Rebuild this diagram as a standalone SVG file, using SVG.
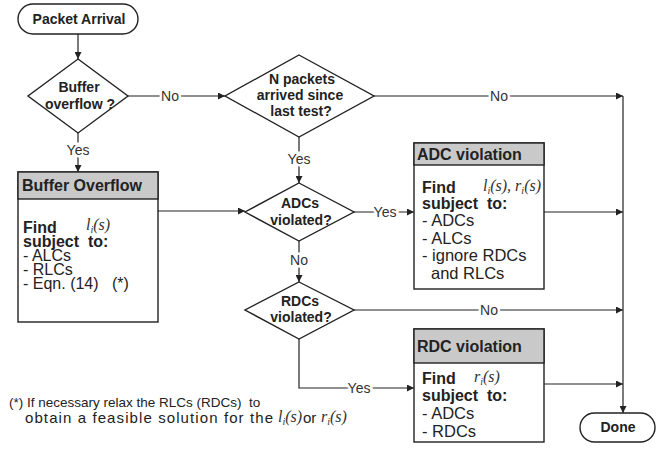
<svg xmlns="http://www.w3.org/2000/svg" width="658" height="452" viewBox="0 0 658 452">
<defs>
<marker id="arr" viewBox="0 0 10 10" refX="10" refY="5" markerWidth="8" markerHeight="7" orient="auto" markerUnits="userSpaceOnUse"><path d="M0,0 L10,5 L0,10 z" fill="#222"/></marker>
<style>
.shape{fill:#fff;stroke:#222;stroke-width:1.4}
.hdr{fill:#c9c9c9;stroke:#222;stroke-width:1.4}
.b{font-family:"Liberation Sans",Arial,sans-serif;font-weight:bold;fill:#222}
.r{font-family:"Liberation Sans",Arial,sans-serif;fill:#222}
.m{font-family:"Liberation Serif","Times New Roman",serif;font-style:italic;fill:#333}
.c{text-anchor:middle}
.line{fill:none;stroke:#222;stroke-width:1.2}
.lbl{font-family:"Liberation Sans",Arial,sans-serif;font-size:14px;fill:#333;text-anchor:middle;stroke:#fff;stroke-width:5;paint-order:stroke}
</style>
</defs>
<g id="connectors">
<path class="line" d="M78,34 V59" marker-end="url(#arr)"/>
<path class="line" d="M128,96 H225" marker-end="url(#arr)"/>
<path class="line" d="M78,133 V172" marker-end="url(#arr)"/>
<path class="line" d="M374,96 H623" marker-end="url(#arr)"/>
<path class="line" d="M299,137 V183" marker-end="url(#arr)"/>
<path class="line" d="M158,211 H245" marker-end="url(#arr)"/>
<path class="line" d="M354,212 H414" marker-end="url(#arr)"/>
<path class="line" d="M544,212 H623" marker-end="url(#arr)"/>
<path class="line" d="M299,241 V282" marker-end="url(#arr)"/>
<path class="line" d="M354,310 H623" marker-end="url(#arr)"/>
<path class="line" d="M299,339 V388 H414" marker-end="url(#arr)"/>
<path class="line" d="M544,384 H623" marker-end="url(#arr)"/>
<path class="line" d="M623,96 V413" marker-end="url(#arr)"/>
<text class="lbl" x="170" y="101">No</text>
<text class="lbl" x="78" y="155">Yes</text>
<text class="lbl" x="499" y="101">No</text>
<text class="lbl" x="299" y="164">Yes</text>
<text class="lbl" x="385" y="217">Yes</text>
<text class="lbl" x="299" y="265">No</text>
<text class="lbl" x="489" y="315">No</text>
<text class="lbl" x="359" y="393">Yes</text>
</g>
<g id="start">
<rect class="shape" x="18" y="4" width="120" height="30" rx="15"/>
<text class="b c" x="79" y="24" font-size="14">Packet Arrival</text>
</g>
<g id="buffer-check">
<polygon class="shape" points="78,59 128,96 78,133 28,96"/>
<text class="b c" x="79" y="92" font-size="14">Buffer</text>
<text class="b c" x="80" y="109" font-size="14">overflow ?</text>
</g>
<g id="n-packets">
<polygon class="shape" points="299,55 374,96 299,137 225,96"/>
<text class="b c" x="302" y="84" font-size="14">N packets</text>
<text class="b c" x="300" y="100" font-size="14">arrived since</text>
<text class="b c" x="301" y="116" font-size="14">last test?</text>
</g>
<g id="adcs-check">
<polygon class="shape" points="299,183 354,212 299,241 245,212"/>
<text class="b c" x="300" y="208" font-size="14">ADCs</text>
<text class="b c" x="301" y="225" font-size="14">violated?</text>
</g>
<g id="rdcs-check">
<polygon class="shape" points="299,282 354,310 299,339 245,310"/>
<text class="b c" x="300" y="306" font-size="14">RDCs</text>
<text class="b c" x="301" y="322" font-size="14">violated?</text>
</g>
<g id="buffer-overflow">
<rect class="shape" x="18" y="172" width="140" height="150"/>
<rect class="hdr" x="18" y="172" width="140" height="27"/>
<text class="b" x="22" y="191" font-size="16">Buffer Overflow</text>
<text class="b" x="23" y="233" font-size="16">Find</text>
<text class="m" x="86" y="230" font-size="16">l<tspan font-size="10" dy="3">i</tspan><tspan dy="-3">(s)</tspan></text>
<text class="b" x="23" y="247" font-size="16" xml:space="preserve">subject  to:</text>
<text class="r" x="23" y="261" font-size="16">- ALCs</text>
<text class="r" x="23" y="275" font-size="16">- RLCs</text>
<text class="r" x="23" y="289" font-size="16" xml:space="preserve">- Eqn. (14)   (*)</text>
</g>
<g id="adc-violation">
<rect class="shape" x="414" y="143" width="130" height="146"/>
<rect class="hdr" x="414" y="143" width="130" height="22"/>
<text class="b" x="417" y="160" font-size="16">ADC violation</text>
<text class="b" x="422" y="193" font-size="16">Find</text>
<text class="m" x="483" y="191" font-size="16">l<tspan font-size="10" dy="3">i</tspan><tspan dy="-3">(s), r</tspan><tspan font-size="10" dy="3">i</tspan><tspan dy="-3">(s)</tspan></text>
<text class="b" x="422" y="209" font-size="16" xml:space="preserve">subject  to:</text>
<text class="r" x="422" y="226" font-size="16.5">- ADCs</text>
<text class="r" x="422" y="244" font-size="16.5">- ALCs</text>
<text class="r" x="422" y="261" font-size="16.5">- ignore RDCs</text>
<text class="r" x="431" y="279" font-size="16.5">and RLCs</text>
</g>
<g id="rdc-violation">
<rect class="shape" x="414" y="329" width="130" height="113"/>
<rect class="hdr" x="414" y="329" width="130" height="34"/>
<text class="b" x="417" y="352" font-size="16">RDC violation</text>
<text class="b" x="422" y="384" font-size="16">Find</text>
<text class="m" x="474" y="382" font-size="16">r<tspan font-size="10" dy="3">i</tspan><tspan dy="-3">(s)</tspan></text>
<text class="b" x="422" y="401" font-size="16" xml:space="preserve">subject  to:</text>
<text class="r" x="422" y="419" font-size="16.5">- ADCs</text>
<text class="r" x="422" y="437" font-size="16.5">- RDCs</text>
</g>
<g id="done">
<rect class="shape" x="580" y="413" width="75" height="29" rx="14.5"/>
<text class="b c" x="618" y="432" font-size="14">Done</text>
</g>
<g id="footnote">
<text class="r" x="9" y="407" font-size="13.5" xml:space="preserve">(*) If necessary relax the RLCs (RDCs)  to</text>
<text class="r" x="25" y="423" font-size="15" textLength="248" lengthAdjust="spacing">obtain a feasible solution for the</text>
<text class="m" x="278" y="422" font-size="16">l<tspan font-size="10" dy="3">i</tspan><tspan dy="-3">(s)</tspan></text>
<text class="r" x="303" y="423" font-size="15">or</text>
<text class="m" x="321" y="422" font-size="16">r<tspan font-size="10" dy="3">i</tspan><tspan dy="-3">(s)</tspan></text>
</g>
</svg>
